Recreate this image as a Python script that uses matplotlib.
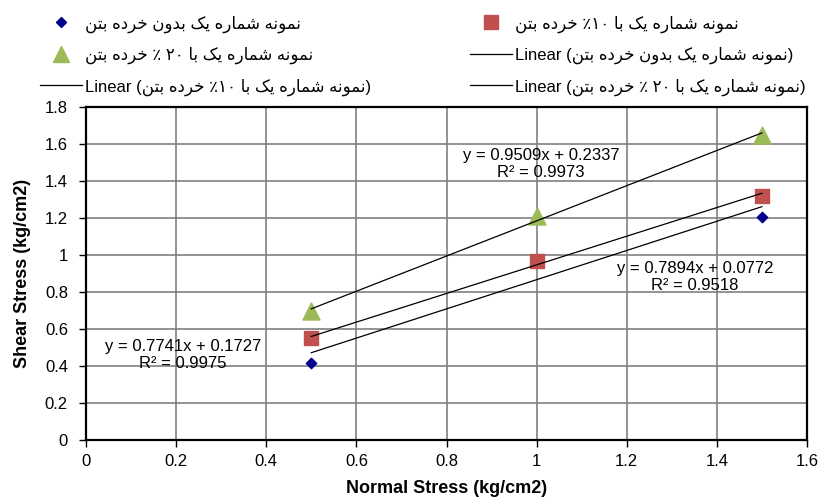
import numpy as np
import matplotlib
matplotlib.use('Agg')
import matplotlib.pyplot as plt
from matplotlib.lines import Line2D

plt.rcParams['font.family'] = ['Liberation Sans', 'DejaVu Sans']

# ---- data ----
normal_stress = [0.5, 1.0, 1.5]
shear_plain = [0.418, 0.975, 1.207]   # no crumb rubber
shear_10 = [0.551, 0.970, 1.319]      # 10 % crumb rubber
shear_20 = [0.696, 1.213, 1.646]      # 20 % crumb rubber

# excel trendlines (slope, intercept) and their labels
fit_plain = [0.7894, 0.0772]
fit_10 = [0.7741, 0.1727]
fit_20 = [0.9509, 0.2337]
eq_plain = 'y = 0.7894x + 0.0772\nR² = 0.9518'
eq_10 = 'y = 0.7741x + 0.1727\nR² = 0.9975'
eq_20 = 'y = 0.9509x + 0.2337\nR² = 0.9973'

name_plain = 'نمونه شماره یک بدون خرده بتن'
name_10 = 'نمونه شماره یک با ۱۰٪ خرده بتن'
name_20 = 'نمونه شماره یک با ۲۰ ٪ خرده بتن'

x_ticks = [0, 0.2, 0.4, 0.6, 0.8, 1, 1.2, 1.4, 1.6]
y_ticks = [0, 0.2, 0.4, 0.6, 0.8, 1, 1.2, 1.4, 1.6, 1.8]


# ---- tiny persian shaper (matplotlib has no bidi / shaping) ----
FORMS = {  # isolated, final, initial, medial
    'ا': ('\uFE8D', '\uFE8E', None, None),
    'د': ('\uFEA9', '\uFEAA', None, None),
    'ر': ('\uFEAD', '\uFEAE', None, None),
    'و': ('\uFEED', '\uFEEE', None, None),
    'ب': ('\uFE8F', '\uFE90', '\uFE91', '\uFE92'),
    'ت': ('\uFE95', '\uFE96', '\uFE97', '\uFE98'),
    'خ': ('\uFEA5', '\uFEA6', '\uFEA7', '\uFEA8'),
    'ش': ('\uFEB5', '\uFEB6', '\uFEB7', '\uFEB8'),
    'م': ('\uFEE1', '\uFEE2', '\uFEE3', '\uFEE4'),
    'ن': ('\uFEE5', '\uFEE6', '\uFEE7', '\uFEE8'),
    'ه': ('\uFEE9', '\uFEEA', '\uFEEB', '\uFEEC'),
    'ی': ('\uFBFC', '\uFBFD', '\uFBFE', '\uFBFF'),
    'ک': ('\uFB8E', '\uFB8F', '\uFB90', '\uFB91'),
}


def shape_word(w):
    out = []
    for i, c in enumerate(w):
        if c not in FORMS:
            out.append(c)
            continue
        prev = w[i - 1] if i > 0 else ''
        nxt = w[i + 1] if i + 1 < len(w) else ''
        jp = prev in FORMS and FORMS[prev][2] is not None
        jn = FORMS[c][2] is not None and nxt in FORMS
        iso, fin, ini, med = FORMS[c]
        if jp and jn:
            out.append(med)
        elif jp:
            out.append(fin)
        elif jn:
            out.append(ini)
        else:
            out.append(iso)
    return ''.join(out)


def rtl(text):
    vis = []
    for t in reversed(text.split(' ')):
        if any('\u06F0' <= c <= '\u06F9' for c in t):
            if t.endswith('٪'):
                t = '٪' + t[:-1]
            vis.append(t)
        else:
            vis.append(shape_word(t)[::-1])
    return ' '.join(vis)


W, H = 822, 504
fig = plt.figure(figsize=(W / 100, H / 100), dpi=100)
ax = fig.add_axes([86 / W, 64 / H, 721 / W, 333 / H])

ax.scatter(normal_stress, shear_plain, marker='D', s=28, color='#00008B', zorder=2)
ax.scatter(normal_stress, shear_10, marker='s', s=110, color='#C0504D', zorder=3)
ax.scatter(normal_stress, shear_20, marker='^', s=150, color='#9BBB59', zorder=3)

xs = np.array([normal_stress[0], normal_stress[-1]])
for m, b in [fit_plain, fit_10, fit_20]:
    ax.plot(xs, m * xs + b, color='black', lw=0.9, zorder=5)

# equation labels, placed in figure pixels (measured from top)
for txt, px, py in [(eq_plain, 695, 277), (eq_10, 183, 355), (eq_20, 541, 164)]:
    fig.text(px / W, 1 - py / H, txt, ha='center', va='center', fontsize=12, linespacing=1.2)

ax.set_xlim(0, 1.6)
ax.set_ylim(0, 1.8)
ax.set_xticks(x_ticks)
ax.set_xticklabels([f'{v:g}' for v in x_ticks])
ax.set_yticks(y_ticks)
ax.set_yticklabels([f'{v:g}' for v in y_ticks])
ax.grid(True, color='#808080', lw=1.2)
ax.set_axisbelow(True)
for s in ax.spines.values():
    s.set_linewidth(1.6)
    s.set_color('black')
ax.tick_params(direction='out', length=5, width=1, labelsize=12, colors='black')
ax.tick_params(axis='y', pad=8)
ax.tick_params(axis='x', pad=5)

ax.set_xlabel('Normal Stress (kg/cm2)', fontsize=13, fontweight='bold', labelpad=8)
ax.set_ylabel('Shear Stress (kg/cm2)', fontsize=13, fontweight='bold', labelpad=10)

# legend, two columns laid out like excel (row major)
h_plain = Line2D([], [], ls='', marker='D', ms=5.5, color='#00008B')
h_10 = Line2D([], [], ls='', marker='s', ms=10, color='#C0504D')
h_20 = Line2D([], [], ls='', marker='^', ms=12, color='#9BBB59')
h_line = Line2D([], [], color='black', lw=0.9)

leg_kw = dict(frameon=False, fontsize=12, handlelength=2.5, handletextpad=0.2,
              labelspacing=0.85, borderpad=0, loc='upper left')
leg1 = fig.legend([h_plain, h_20, h_line],
                  [rtl(name_plain), rtl(name_20), 'Linear (' + rtl(name_10) + ')'],
                  bbox_to_anchor=(32 / W, 1 - 7 / H), **leg_kw)
leg2 = fig.legend([h_10, h_line, h_line],
                  [rtl(name_10), 'Linear (' + rtl(name_plain) + ')', 'Linear (' + rtl(name_20) + ')'],
                  bbox_to_anchor=(462 / W, 1 - 7 / H), **leg_kw)

fig.savefig('out.png', dpi=100)
